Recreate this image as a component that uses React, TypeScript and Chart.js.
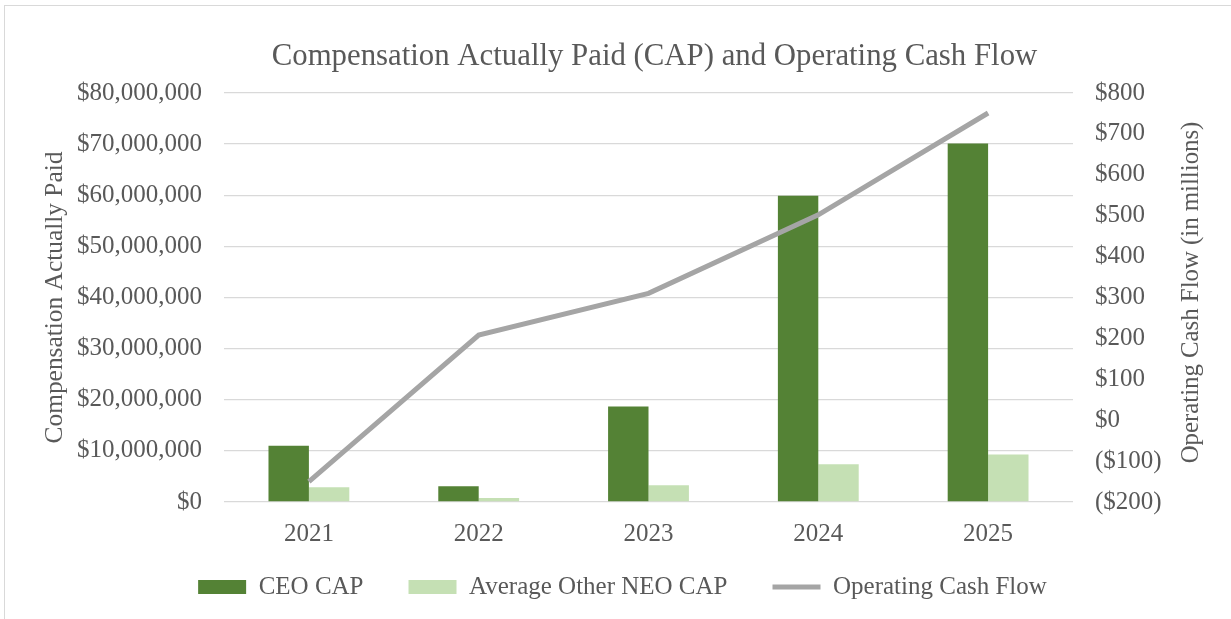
import React, { useEffect, useRef } from "react";
import { Chart, registerables } from "chart.js";

Chart.register(...registerables);

const years = ["2021", "2022", "2023", "2024", "2025"];
const ceoCap = [11000000, 3100000, 18700000, 59900000, 70100000];
const neoCap = [2900000, 800000, 3300000, 7400000, 9300000];
const opCashFlow = [-150, 208, 310, 502, 751];

const leftMin = 0;
const leftMax = 80000000;
const leftStep = 10000000;
const rightMin = -200;
const rightMax = 800;
const rightStep = 100;

const TITLE = "Compensation Actually Paid (CAP) and Operating Cash Flow";
const LEFT_TITLE = "Compensation Actually Paid";
const RIGHT_TITLE = "Operating Cash Flow (in millions)";

const CEO_COLOR = "#548235";
const NEO_COLOR = "#C5E0B4";
const LINE_COLOR = "#A5A5A5";
const TEXT = "#595959";
const GRID = "#D9D9D9";
const FONT = "'Liberation Serif', 'Times New Roman', serif";

// draws the right axis title reading bottom-to-top (as in the reference)
const rightTitlePlugin = {
  id: "rightTitle",
  afterDraw(chart: any) {
    const { ctx, chartArea } = chart;
    const sc = chart.scales.y1;
    ctx.save();
    ctx.translate(sc.right - 40, (chartArea.top + chartArea.bottom) / 2 - 5);
    ctx.rotate(-Math.PI / 2);
    ctx.textAlign = "center";
    ctx.textBaseline = "middle";
    ctx.font = `24.8px ${FONT}`;
    ctx.fillStyle = TEXT;
    ctx.fillText(RIGHT_TITLE, 0, 0);
    ctx.restore();
  },
};

// nudges the legend row and title to where the reference has them
const nudgePlugin = {
  id: "nudge",
  afterLayout(chart: any) {
    const lg = chart.legend;
    if (lg) {
      const xb = chart.scales.x.bottom;
      lg.top = xb - 18.5;
      lg.bottom = lg.top + lg.height;
      lg.left += 7;
      lg.right += 7;
    }
    const tb = chart.titleBlock;
    if (tb) {
      tb.left += 6;
      tb.right += 6;
    }
  },
};

export default function App() {
  const ref = useRef<HTMLCanvasElement | null>(null);

  useEffect(() => {
    if (!ref.current) return;
    const legendColors = [CEO_COLOR, NEO_COLOR, LINE_COLOR];
    const chart = new Chart(ref.current, {
      type: "bar",
      plugins: [rightTitlePlugin, nudgePlugin],
      data: {
        labels: years,
        datasets: [
          {
            type: "bar",
            label: "CEO CAP",
            data: ceoCap,
            backgroundColor: CEO_COLOR,
            yAxisID: "y",
            order: 2,
            categoryPercentage: 0.476,
            barPercentage: 1,
          },
          {
            type: "bar",
            label: "Average Other NEO CAP",
            data: neoCap,
            backgroundColor: NEO_COLOR,
            yAxisID: "y",
            order: 3,
            categoryPercentage: 0.476,
            barPercentage: 1,
          },
          {
            type: "line",
            label: "Operating Cash Flow",
            data: opCashFlow,
            borderColor: LINE_COLOR,
            backgroundColor: LINE_COLOR,
            borderWidth: 5,
            pointRadius: 0,
            tension: 0,
            yAxisID: "y1",
            order: 1,
          } as any,
        ],
      },
      options: {
        responsive: false,
        animation: false,
        layout: { padding: { left: 0, right: 0, top: 0, bottom: -9 } },
        plugins: {
          title: {
            display: true,
            text: TITLE,
            color: TEXT,
            font: { family: FONT, size: 30.8, weight: "normal", lineHeight: 1.2 },
            padding: { top: 38, bottom: 18 },
            fullSize: false,
          },
          legend: {
            position: "bottom",
            labels: {
              color: TEXT,
              font: { family: FONT, size: 25, lineHeight: 1.2 },
              usePointStyle: true,
              pointStyleWidth: 48,
              boxHeight: 14,
              padding: 45,
              generateLabels: (c: any) =>
                c.data.datasets.map((ds: any, i: number) => ({
                  text: ds.label,
                  fillStyle: legendColors[i],
                  strokeStyle: legendColors[i],
                  lineWidth: i === 2 ? 5 : 0,
                  pointStyle: i === 2 ? "line" : "rect",
                  datasetIndex: i,
                  hidden: false,
                  fontColor: TEXT,
                })),
            },
          },
          tooltip: { enabled: false },
        },
        scales: {
          x: {
            grid: { display: false },
            border: { display: false },
            ticks: {
              color: TEXT,
              font: { family: FONT, size: 25, lineHeight: 1.2 },
              padding: 9,
            },
            afterFit: (s: any) => {
              s.height = 46;
            },
          },
          y: {
            position: "left",
            min: leftMin,
            max: leftMax,
            grid: { color: GRID, lineWidth: 1.3, drawTicks: false },
            border: { display: false },
            ticks: {
              stepSize: leftStep,
              color: TEXT,
              padding: 22,
              font: { family: FONT, size: 25, lineHeight: 1.2 },
              callback: (v: any) => "$" + Number(v).toLocaleString("en-US"),
            },
            title: {
              display: true,
              text: LEFT_TITLE,
              color: TEXT,
              font: { family: FONT, size: 25.4, lineHeight: 1.2 },
              padding: { top: 40, bottom: 0 },
            },
            afterFit: (s: any) => {
              s.width = 224;
            },
          },
          y1: {
            position: "right",
            min: rightMin,
            max: rightMax,
            grid: { display: false, drawTicks: false },
            border: { display: false },
            ticks: {
              stepSize: rightStep,
              color: TEXT,
              padding: 22,
              font: { family: FONT, size: 25, lineHeight: 1.2 },
              callback: (v: any) => (v < 0 ? "($" + -v + ")" : "$" + v),
            },
            title: { display: false },
            afterFit: (s: any) => {
              s.width = 158;
            },
          },
        },
      } as any,
    });
    return () => chart.destroy();
  }, []);

  return (
    <div style={{ position: "absolute", left: 0, top: 0, width: 1231, height: 619, background: "#fff", overflow: "hidden" }}>
      <div
        style={{
          position: "absolute",
          left: 4,
          top: 5,
          width: 1300,
          height: 700,
          borderLeft: "1px solid #D9D9D9",
          borderTop: "1px solid #D9D9D9",
        }}
      />
      <canvas ref={ref} width={1231} height={619} style={{ position: "absolute", left: 0, top: 0 }} />
    </div>
  );
}
